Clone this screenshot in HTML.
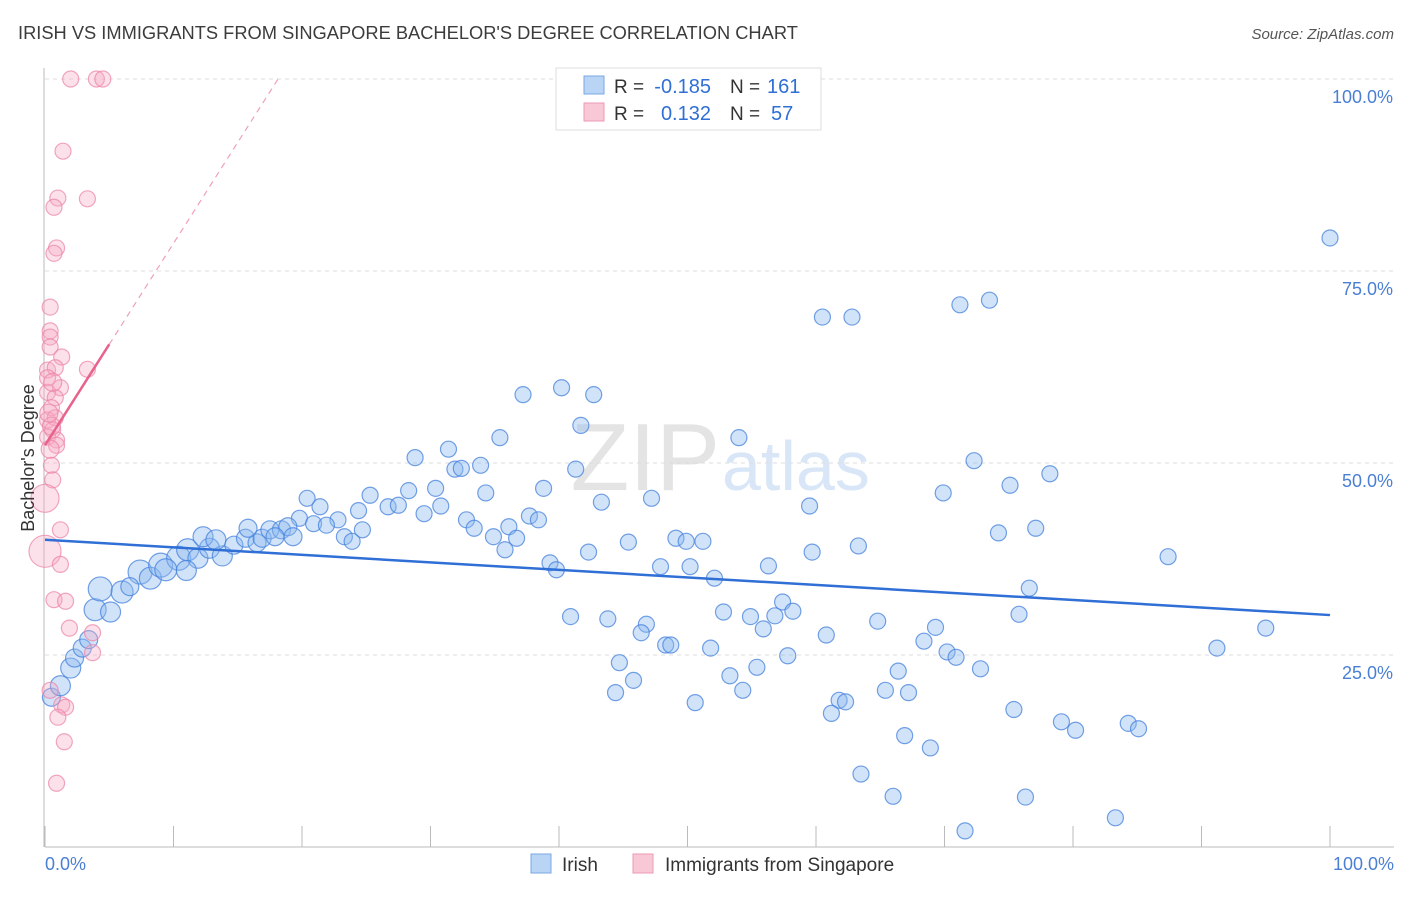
<!DOCTYPE html>
<html><head><meta charset="utf-8"><style>
body{margin:0;background:#fff;font-family:"Liberation Sans",sans-serif}
svg text{font-family:"Liberation Sans",sans-serif}
</style></head><body>
<svg id="chart" width="1406" height="892" xmlns="http://www.w3.org/2000/svg">
<text x="18" y="39" font-size="18.3" fill="#3c3c3c">IRISH VS IMMIGRANTS FROM SINGAPORE BACHELOR'S DEGREE CORRELATION CHART</text>
<text x="1394" y="39" font-size="15" fill="#555" font-style="italic" text-anchor="end">Source: ZipAtlas.com</text>
<text x="720" y="490" font-size="96" fill="#e4e4e4" text-anchor="end" font-family="Liberation Serif">ZIP</text>
<text x="722" y="490" font-size="70" fill="#d8e6f7">atlas</text>
<g id="grid"></g>
<g id="axes"></g>
<g id="pts"></g>
<g id="lines"></g>
<text transform="translate(34,458) rotate(-90)" font-size="18" fill="#333" text-anchor="middle">Bachelor's Degree</text>
<text x="45" y="870" font-size="18" fill="#4a7fd4">0.0%</text>
<text x="1394" y="870" font-size="18" fill="#4a7fd4" text-anchor="end">100.0%</text>
<g>
<rect x="556" y="68" width="265" height="62" fill="#fff" stroke="#ddd"/>
<rect x="584" y="76" width="20" height="18" fill="#b9d4f5" stroke="#7aa7e4"/>
<rect x="584" y="103" width="20" height="18" fill="#f8c8d6" stroke="#ec9ab3"/>
<text x="614" y="93" font-size="19" fill="#333">R =</text>
<text x="711" y="93" font-size="20" fill="#2f6fd6" text-anchor="end">-0.185</text>
<text x="730" y="93" font-size="19" fill="#333">N =</text>
<text x="767" y="93" font-size="20" fill="#2f6fd6">161</text>
<text x="614" y="120" font-size="19" fill="#333">R =</text>
<text x="711" y="120" font-size="20" fill="#2f6fd6" text-anchor="end">0.132</text>
<text x="730" y="120" font-size="19" fill="#333">N =</text>
<text x="771" y="120" font-size="20" fill="#2f6fd6">57</text>
</g>
<g>
<rect x="531" y="854" width="20" height="19" fill="#b9d4f5" stroke="#7aa7e4"/>
<text x="562" y="871" font-size="19" fill="#333">Irish</text>
<rect x="633" y="854" width="20" height="19" fill="#f8c8d6" stroke="#ec9ab3"/>
<text x="665" y="871" font-size="19" fill="#333">Immigrants from Singapore</text>
</g>
</svg>
<script>
const yTicks=[25,50,75,100];
const yTickLabels=["25.0%","50.0%","75.0%","100.0%"];
const xTicks=[0,10,20,30,40,50,60,70,80,90,100];
const irishX=[100,60.5,62.8,71.2,73.5,37.2,40.2,42.7,41.7,35.4,31.4,28.8,31.9,32.4,33.9,41.3,54.0,72.3,78.2,75.1,69.9,47.2,43.3,38.8,34.3,30.4,28.3,25.3,20.4,21.4,26.7,24.4,27.5,29.5,30.8,37.7,38.4,32.8,33.4,36.1,59.5,19.8,20.9,22.8,21.9,24.7,23.3,23.9,34.9,36.7,35.8,45.4,49.1,49.9,51.2,74.2,77.1,63.3,59.7,42.3,39.3,39.8,47.9,50.2,52.1,56.3,87.4,76.6,95.0,91.2,75.8,57.4,58.2,56.8,54.9,52.8,55.9,40.9,43.8,46.8,46.4,60.8,64.8,69.3,68.4,48.3,48.7,51.8,57.8,70.2,70.9,72.8,44.7,55.4,53.3,66.4,45.8,54.3,65.4,67.2,44.4,50.6,61.8,62.3,61.2,75.4,79.1,80.2,84.3,85.1,66.9,68.9,63.5,66.0,76.3,83.3,71.6,0.5,1.2,2.0,2.3,2.9,3.4,3.9,5.1,4.3,6.0,7.4,8.2,9.0,10.4,11.1,11.9,12.8,13.8,12.3,13.3,14.7,15.6,16.5,16.9,15.8,17.5,18.4,18.9,19.3,17.9,9.4,11.0,6.6];
const irishY=[79.3,69.0,69.0,70.6,71.2,58.9,59.8,58.9,54.9,53.3,51.8,50.7,49.2,49.3,49.7,49.2,53.3,50.3,48.6,47.1,46.1,45.4,44.9,46.7,46.1,46.7,46.4,45.8,45.4,44.3,44.3,43.8,44.5,43.4,44.4,43.1,42.6,42.6,41.5,41.7,44.4,42.8,42.1,42.6,41.9,41.3,40.4,39.8,40.4,40.2,38.7,39.7,40.2,39.8,39.8,40.9,41.5,39.2,38.4,38.4,37.0,36.1,36.5,36.5,35.0,36.6,37.8,33.7,28.5,25.9,30.3,31.9,30.7,30.1,30.0,30.6,28.4,30.0,29.7,29.0,27.9,27.6,29.4,28.6,26.8,26.3,26.3,25.9,24.9,25.4,24.7,23.2,24.0,23.4,22.3,22.9,21.7,20.4,20.4,20.1,20.1,18.8,19.1,18.9,17.4,17.9,16.3,15.2,16.1,15.4,14.5,12.9,9.5,6.6,6.5,3.8,2.1,19.5,21.0,23.3,24.6,25.9,27.0,30.9,30.6,33.6,33.2,35.8,35.0,36.7,37.6,38.7,37.6,38.9,37.9,40.4,40.0,39.3,40.2,39.6,40.2,41.5,41.3,41.3,41.7,40.4,40.4,36.1,36.0,33.9];
const irishR=[8,8,8,8,8,8,8,8,8,8,8,8,8,8,8,8,8,8,8,8,8,8,8,8,8,8,8,8,8,8,8,8,8,8,8,8,8,8,8,8,8,8,8,8,8,8,8,8,8,8,8,8,8,8,8,8,8,8,8,8,8,8,8,8,8,8,8,8,8,8,8,8,8,8,8,8,8,8,8,8,8,8,8,8,8,8,8,8,8,8,8,8,8,8,8,8,8,8,8,8,8,8,8,8,8,8,8,8,8,8,8,8,8,8,8,8,8,9,10,10,9,9,9,11,10,12,11,12,11,12,12,11,10,10,10,10,10,9,9,9,9,9,9,9,9,9,9,11,10,9];
const sgX=[2.0,4.0,4.5,1.4,1.0,3.3,0.7,0.9,0.7,0.4,0.4,0.4,0.4,1.3,0.2,0.8,3.3,0.2,1.2,0.2,0.8,0.5,0.2,0.8,0.6,0.2,0.9,0.9,0.5,0.6,0,1.2,0,1.2,0.7,1.6,1.9,3.7,3.7,0.4,1.3,1.6,1.0,1.5,0.9,0.5,0.3,0.6,0.4];
const sgY=[100,100,100,90.6,84.5,84.4,83.3,78.0,77.3,70.3,67.2,66.4,65.1,63.8,62.1,62.4,62.2,61.1,59.8,59.2,58.5,57.2,55.6,55.9,54.3,53.4,53.0,52.3,49.7,47.8,45.4,41.3,38.5,36.8,32.2,32.0,28.5,27.9,25.3,20.4,18.5,18.2,16.9,13.7,8.3,54.8,56.5,60.5,51.8];
const sgR=[8,8,8,8,8,8,8,8,8,8,8,8,8,8,8,8,8,8,8,8,8,8,8,8,8,8,8,8,8,8,14,8,16,8,8,8,8,8,8,8,8,8,8,8,8,9,9,9,9];
const irishFit=[40.0,30.2];
const sgFit=[52.3,2.63];
const sx=v=>45+v*12.85, sy=v=>847-v*7.68;
const NS="http://www.w3.org/2000/svg";
function mk(t,a,p){const e=document.createElementNS(NS,t);for(const k in a)e.setAttribute(k,a[k]);p.appendChild(e);return e;}
const grid=document.getElementById('grid'),axes=document.getElementById('axes'),pts=document.getElementById('pts'),lines=document.getElementById('lines');
yTicks.forEach((t,i)=>{
 const l=mk('line',{x1:45,x2:1394,y1:sy(t),y2:sy(t),stroke:'#ddd','stroke-dasharray':'4,4'},grid);
 
 
 const tx=mk('text',{x:1393,y:sy(t)+24,'font-size':18,fill:'#4a7fd4','text-anchor':'end'},grid);
 tx.textContent=yTickLabels[i];
 
 
});
const ax=mk('line',{x1:45,x2:1394,y1:847,y2:847,stroke:'#bbb'},axes);


const ay=mk('line',{x1:44,x2:44,y1:68,y2:847,stroke:'#bbb'},axes);


xTicks.forEach(t=>{
 const l=mk('line',{x1:sx(t),x2:sx(t),y1:826,y2:847,stroke:'#bbb'},axes);
 
 
});
irishX.forEach((x,i)=>{
 const c=mk('circle',{cx:sx(x),cy:sy(irishY[i]),r:irishR[i],fill:'rgba(140,185,240,0.4)',stroke:'rgba(70,130,220,0.75)','stroke-width':1.2},pts);
 
 
});
sgX.forEach((x,i)=>{
 const c=mk('circle',{cx:sx(x),cy:sy(sgY[i]),r:sgR[i],fill:'rgba(245,170,195,0.35)',stroke:'rgba(235,130,165,0.7)','stroke-width':1.2},pts);
 
 
});
const bl=mk('line',{x1:sx(0),y1:sy(irishFit[0]),x2:sx(100),y2:sy(irishFit[1]),stroke:'#2f6fd6','stroke-width':2.5},lines);


const pl=mk('line',{x1:sx(0),y1:sy(sgFit[0]),x2:sx(5),y2:sy(sgFit[0]+5*sgFit[1]),stroke:'#e8628c','stroke-width':2.5},lines);


const xe=(100-sgFit[0])/sgFit[1];
const pd=mk('line',{x1:sx(5),y1:sy(sgFit[0]+5*sgFit[1]),x2:sx(xe),y2:sy(100),stroke:'#f0a0b8','stroke-width':1.2,'stroke-dasharray':'6,5'},lines);


</script>
</body></html>
